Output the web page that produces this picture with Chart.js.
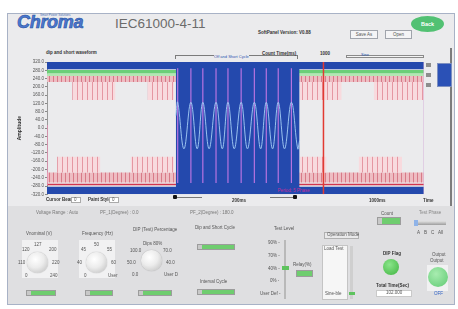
<!DOCTYPE html>
<html>
<head>
<meta charset="utf-8">
<script src="https://cdn.jsdelivr.net/npm/chart.js@4.4.1/dist/chart.umd.min.js"></script>
<style>
  body { margin: 0; width: 458px; height: 309px; background: #fff; position: relative; overflow: hidden; font-family: Arial, "Liberation Sans", sans-serif; }
  .win { position: absolute; left: 7px; top: 13px; width: 448px; height: 292px; background: #ebebed; border: 1px solid #a8b2c6; box-sizing: border-box; }
  .low { position: absolute; left: 8px; top: 206px; width: 446px; height: 98px; background: #dfdfe1; }
  .t { position: absolute; font-size: 4.5px; color: #555; white-space: nowrap; line-height: 1; }
  .b { font-weight: bold; color: #333; }
  .gbox { position: absolute; height: 6px; background: #6fcd6f; border: 1px solid #9c9c9c; box-sizing: border-box; }
  .gbox i { position: absolute; left: 0; top: 0; width: 4px; height: 100%; background: #c8c8c8; }
  .knob { position: absolute; border-radius: 50%; background: radial-gradient(circle at 40% 35%, #ffffff 0%, #ececec 45%, #b9b9b9 100%); box-shadow: 0 0 1px #8a8a8a; }
  .kbox { position: absolute; background: #f1f1f2; }
  .btn { position: absolute; height: 9px; border: 1px solid #a0a4ac; background: #f4f4f6; box-sizing: border-box; font-size: 4.5px; color: #555; text-align: center; line-height: 7px; }
  #plot { position: absolute; left: 17px; top: 58px; width: 407px; height: 140px; }
</style>
</head>
<body>
<div class="win"></div>
<div class="low"></div>

<!-- header -->
<div class="t" style="left:40px;top:14px;font-size:3px;color:#4a6fb5;">Smart Power Solutions</div>
<div style="position:absolute;left:17px;top:12px;font-size:18px;font-weight:bold;font-style:italic;color:#4b78cf;-webkit-text-stroke:0.6px #27509f;letter-spacing:-0.3px;">Chroma</div>
<div style="position:absolute;left:115px;top:16px;font-size:13.5px;color:#6b6b6b;">IEC61000-4-11</div>
<div class="t b" style="left:258px;top:31px;">SoftPanel Version: V0.88</div>
<div class="btn" style="left:350px;top:30px;width:28px;">Save As</div>
<div class="btn" style="left:385px;top:30px;width:27px;">Open</div>
<div style="position:absolute;left:411px;top:16px;width:33px;height:16px;border-radius:50%;background:#52c173;color:#fff;font-size:5.5px;font-weight:bold;text-align:center;line-height:16px;">Back</div>

<!-- chart header -->
<div class="t b" style="left:46px;top:51px;">dip and short waveform</div>
<div style="position:absolute;left:175px;top:55px;width:123px;height:4px;border:1px solid #7b7b7b;border-bottom:none;box-sizing:border-box;"></div>
<div class="t" style="left:214px;top:55px;font-size:4px;color:#2b55b0;background:#ebebed;">Off and Short Cycle</div>
<div class="t b" style="left:262px;top:52px;">Count Time(ms)</div>
<div class="t b" style="left:320px;top:52px;">1000</div>
<div style="position:absolute;left:346px;top:55px;width:78px;height:3px;border:1px solid #8a8a8a;background:#f4f4f4;box-sizing:border-box;"></div>
<div class="t" style="left:361px;top:53px;font-size:4px;color:#2b55b0;">Sine</div>
<div style="position:absolute;left:450px;top:48px;width:2px;height:158px;background:#7c7c7c;"></div>

<!-- right legend -->
<div style="position:absolute;left:426px;top:63px;width:5px;height:4px;background:#8d8d8d;"></div>
<div style="position:absolute;left:426px;top:73px;width:5px;height:4px;background:#8d8d8d;"></div>
<div style="position:absolute;left:426px;top:83px;width:5px;height:4px;background:#8d8d8d;"></div>
<div style="position:absolute;left:437px;top:63px;width:15px;height:24px;background:#2b51b6;border:1px solid #7d8fc0;box-sizing:border-box;"></div>

<div id="plot"><canvas id="wave"></canvas></div>

<!-- below chart -->
<div class="t" style="left:278px;top:189px;color:#d0309a;">Period: 5 Phase</div>
<div class="t b" style="left:46px;top:198px;">Cursor Beam</div>
<div style="position:absolute;left:71px;top:197px;width:10px;height:6px;background:#fff;border:1px solid #aaa;box-sizing:border-box;"></div>
<div class="t" style="left:74px;top:198px;">0</div>
<div class="t b" style="left:88px;top:198px;">Paint Style</div>
<div style="position:absolute;left:109px;top:197px;width:10px;height:6px;background:#fff;border:1px solid #aaa;box-sizing:border-box;"></div>
<div class="t" style="left:112px;top:198px;">0</div>
<div style="position:absolute;left:173px;top:195px;width:4px;height:4px;background:#111;border-radius:1px;"></div>
<div style="position:absolute;left:177px;top:197px;width:25px;height:1px;background:#777;"></div>
<div class="t b" style="left:232px;top:199px;">200ms</div>
<div style="position:absolute;left:270px;top:197px;width:23px;height:1px;background:#777;"></div>
<div style="position:absolute;left:293px;top:195px;width:4px;height:4px;background:#111;border-radius:1px;"></div>
<div class="t b" style="left:369px;top:199px;">1000ms</div>
<div class="t b" style="left:423px;top:199px;">Time</div>

<!-- lower panel -->
<div class="t" style="left:36px;top:211px;color:#777;">Voltage Range : Auto</div>
<div class="t" style="left:100px;top:211px;color:#777;">PF_1(Degree) : 0.0</div>
<div class="t" style="left:190px;top:211px;color:#777;">PF_2(Degree) : 180.0</div>

<div class="kbox" style="left:22px;top:240px;width:36px;height:38px;"></div>
<div class="t" style="left:26px;top:232px;">Vnominal (V)</div>
<div class="knob" style="left:27px;top:252px;width:21px;height:21px;"></div>
<div class="t" style="left:34px;top:243px;">127</div>
<div class="t" style="left:22px;top:248px;">120</div>
<div class="t" style="left:49px;top:248px;">200</div>
<div class="t" style="left:18px;top:261px;">110</div>
<div class="t" style="left:52px;top:261px;">220</div>
<div class="t" style="left:25px;top:274px;">0</div>
<div class="t" style="left:50px;top:274px;">240</div>
<div class="gbox" style="left:26px;top:290px;width:30px;"><i></i></div>

<div class="kbox" style="left:79px;top:240px;width:36px;height:38px;"></div>
<div class="t" style="left:82px;top:232px;">Frequency (Hz)</div>
<div class="knob" style="left:86px;top:252px;width:21px;height:21px;"></div>
<div class="t" style="left:94px;top:243px;">50</div>
<div class="t" style="left:81px;top:248px;">45</div>
<div class="t" style="left:107px;top:248px;">55</div>
<div class="t" style="left:77px;top:261px;">40</div>
<div class="t" style="left:111px;top:261px;">60</div>
<div class="t" style="left:84px;top:274px;">0</div>
<div class="t" style="left:108px;top:274px;">User</div>
<div class="gbox" style="left:85px;top:290px;width:28px;"><i></i></div>

<div class="t" style="left:133px;top:228px;">DIP (Test) Percentage</div>
<div class="knob" style="left:141px;top:250px;width:21px;height:21px;"></div>
<div class="t" style="left:143px;top:242px;">Dips 80%</div>
<div class="t" style="left:130px;top:249px;">100.0</div>
<div class="t" style="left:163px;top:249px;">70.0</div>
<div class="t" style="left:127px;top:261px;">50.0</div>
<div class="t" style="left:166px;top:261px;">40.0</div>
<div class="t" style="left:132px;top:273px;">0.0</div>
<div class="t" style="left:164px;top:273px;">User D</div>
<div class="gbox" style="left:138px;top:290px;width:34px;"><i></i></div>

<div class="t" style="left:195px;top:226px;">Dip and Short Cycle</div>
<div class="gbox" style="left:197px;top:244px;width:38px;"><i></i></div>
<div class="t" style="left:200px;top:280px;">Interval Cycle</div>
<div class="gbox" style="left:197px;top:289px;width:38px;"><i></i></div>

<div class="t" style="left:274px;top:227px;">Test Level</div>
<div style="position:absolute;left:284px;top:240px;width:2px;height:59px;background:#b9b9b9;"></div>
<div class="t" style="left:268px;top:241px;">90% -</div>
<div class="t" style="left:268px;top:254px;">70% -</div>
<div class="t" style="left:268px;top:267px;">40% -</div>
<div class="t" style="left:270px;top:279px;">0% -</div>
<div class="t" style="left:260px;top:292px;">User Def -</div>
<div style="position:absolute;left:282px;top:266px;width:7px;height:4px;background:#5ec35e;"></div>
<div class="t" style="left:293px;top:263px;">Relay(%)</div>
<div class="gbox" style="left:296px;top:270px;width:17px;height:7px;"></div>

<div style="position:absolute;left:324px;top:232px;width:35px;height:7px;border:1px solid #b0b0b0;background:#e9e9ea;box-sizing:border-box;"></div>
<div class="t" style="left:327px;top:233px;">Operation Mode</div>
<div style="position:absolute;left:322px;top:245px;width:26px;height:55px;background:#f6f6f6;border:1px solid #c4c4c4;box-sizing:border-box;"></div>
<div class="t" style="left:324px;top:247px;">Load Test</div>
<div class="t" style="left:325px;top:292px;">Sine-ble</div>
<div style="position:absolute;left:350px;top:246px;width:3px;height:53px;background:#cfcfcf;"></div>
<div style="position:absolute;left:349px;top:292px;width:6px;height:3px;background:#5ec35e;"></div>

<div class="t" style="left:381px;top:212px;">Count</div>
<div class="gbox" style="left:377px;top:217px;width:24px;height:8px;"><i></i></div>
<div class="t b" style="left:383px;top:252px;">DIP Flag</div>
<div style="position:absolute;left:383px;top:259px;width:16px;height:16px;border-radius:50%;background:radial-gradient(circle at 40% 35%, #8be58b, #3fb33f);"></div>
<div class="t b" style="left:376px;top:284px;">Total Time(Sec)</div>
<div style="position:absolute;left:376px;top:290px;width:36px;height:7px;background:#fff;border:1px solid #c9c9c9;box-sizing:border-box;"></div>
<div class="t" style="left:386px;top:291px;">102.000</div>

<div class="t" style="left:419px;top:211px;color:#888;">Test Phase</div>
<div style="position:absolute;left:414px;top:221px;width:32px;height:4px;background:linear-gradient(#e2e2e2,#9d9d9d);"></div>
<div style="position:absolute;left:414px;top:220px;width:4px;height:6px;background:#8fb3e8;"></div>
<div class="t" style="left:417px;top:231px;">A</div>
<div class="t" style="left:424px;top:231px;">B</div>
<div class="t" style="left:431px;top:231px;">C</div>
<div class="t" style="left:438px;top:231px;">All</div>
<div class="t" style="left:432px;top:253px;">Output</div>
<div class="t" style="left:430px;top:259px;">Output</div>
<div class="kbox" style="left:427px;top:265px;width:21px;height:26px;"></div>
<div style="position:absolute;left:428px;top:267px;width:20px;height:20px;border-radius:50%;background:radial-gradient(circle at 40% 35%, #a8ecb0, #5fca72);"></div>
<div class="t" style="left:434px;top:292px;color:#2d5fc4;">OFF</div>

<script>
// axis range (V) and time window (ms)
const yMin = -320, yMax = 320, yStep = 40;
const xMin = 0, xMax = 600;

// horizontal bands [low, high] in volts
const topBlueBand = [285, 320];
const bottomBlueBand = [-320, -283];
const greenBandDark = [266, 281];
const greenBandLight = [252, 266];
const topDenseRow = [223, 252];
const bottomDenseRow = [-263, -215];
const redLineY = -273;

// burst blocks [start, end] in ms
const topBurstLevels = [136, 223];
const topBursts = [[40, 109], [160, 202], [402, 469], [520, 600]];
const bottomBurstLevels = [-215, -138];
const bottomBursts = [[16, 85], [133, 202], [402, 445], [496, 565]];

// dip window and the wave inside it
const dipWindow = [205, 402];
const sineX = [205, 208, 218, 229, 239, 248, 258, 269, 279, 288, 298, 309, 319, 330, 340, 349, 359, 368, 378, 389, 399, 402];
const sineY = [60, 125, -100, 125, -100, 125, -100, 125, -100, 125, -100, 125, -100, 125, -100, 125, -100, 125, -100, 125, -100, -60];
const stripeX = [208, 229, 248, 269, 288, 309, 330, 349, 368, 389];
const stripeLevels = [-265, 290];

// cursor
const cursorX = 440;
const leftEdgeLevels = [-275, 15];

function stripes(bg, line, step) {
    const c = document.createElement('canvas');
    c.width = step; c.height = 4;
    const g = c.getContext('2d');
    g.fillStyle = bg; g.fillRect(0, 0, step, 4);
    g.fillStyle = line; g.fillRect(0, 0, 1, 4);
    return g.createPattern(c, 'repeat');
}

function rect(x0, x1, band, color, order) {
    return {
        data: [{ x: x0, y: band[1] }, { x: x1, y: band[1] }],
        fill: { value: band[0] },
        backgroundColor: color,
        borderWidth: 0,
        pointRadius: 0,
        order: order
    };
}

function vline(x, levels, color, width, order) {
    return {
        data: [{ x: x, y: levels[0] }, { x: x, y: levels[1] }],
        borderColor: color,
        borderWidth: width,
        pointRadius: 0,
        fill: false,
        order: order
    };
}

const blue = '#2449ad';
const densePink = stripes('#eebcc2', '#d77a88', 4);
const burstPink = stripes('#f8dade', '#e597a2', 5);

const datasets = [
    rect(xMin, xMax, topBlueBand, blue, 10),
    rect(xMin, xMax, bottomBlueBand, blue, 10),
    rect(xMin, xMax, greenBandDark, '#6ccf78', 9),
    rect(xMin, xMax, greenBandLight, '#b3e8b3', 9),
    rect(xMin, xMax, topDenseRow, densePink, 9),
    rect(xMin, xMax, bottomDenseRow, densePink, 9),
    {
        data: [{ x: xMin, y: redLineY }, { x: xMax, y: redLineY }],
        borderColor: '#d2344e', borderWidth: 1.5, pointRadius: 0, fill: false, order: 7
    },
    rect(dipWindow[0], dipWindow[1], [yMin, yMax], blue, 5),
    {
        data: stripeX.flatMap(x => [{ x: x, y: stripeLevels[0] }, { x: x, y: stripeLevels[1] }, { x: x, y: null }]),
        borderColor: 'rgba(200,120,230,0.9)', borderWidth: 1.2, pointRadius: 0, fill: false, spanGaps: false, order: 3
    },
    {
        data: sineX.map((x, i) => ({ x: x, y: sineY[i] })),
        borderColor: '#a6cff6', borderWidth: 0.9, pointRadius: 0, fill: false, tension: 0.4, order: 2
    },
    vline(cursorX, [yMin, yMax], '#e23a32', 1.5, 1),
    vline(xMin, leftEdgeLevels, '#e58fb0', 1.5, 1),
    vline(xMax, [yMin, yMax], '#d4b0d8', 1, 1)
];
topBursts.forEach(b => datasets.push(rect(b[0], b[1], topBurstLevels, burstPink, 8)));
bottomBursts.forEach(b => datasets.push(rect(b[0], b[1], bottomBurstLevels, burstPink, 8)));

new Chart(document.getElementById('wave').getContext('2d'), {
    type: 'line',
    data: { datasets: datasets },
    options: {
        responsive: true,
        maintainAspectRatio: false,
        animation: false,
        events: [],
        layout: { padding: { top: 4, right: 0, bottom: 3, left: 0 } },
        plugins: { legend: { display: false }, tooltip: { enabled: false } },
        scales: {
            x: { type: 'linear', min: xMin, max: xMax, display: false },
            y: {
                min: yMin, max: yMax,
                afterFit: axis => { axis.width = 30; },
                title: { display: true, text: 'Amplitude', color: '#333', font: { size: 5, weight: 'bold' }, padding: 0 },
                ticks: {
                    stepSize: yStep,
                    autoSkip: false,
                    padding: 1,
                    color: '#555',
                    font: { size: 4.5 },
                    callback: v => v.toFixed(1)
                },
                grid: { drawOnChartArea: false, tickLength: 2, color: '#888' },
                border: { color: '#999' }
            }
        }
    }
});
</script>
</body>
</html>
